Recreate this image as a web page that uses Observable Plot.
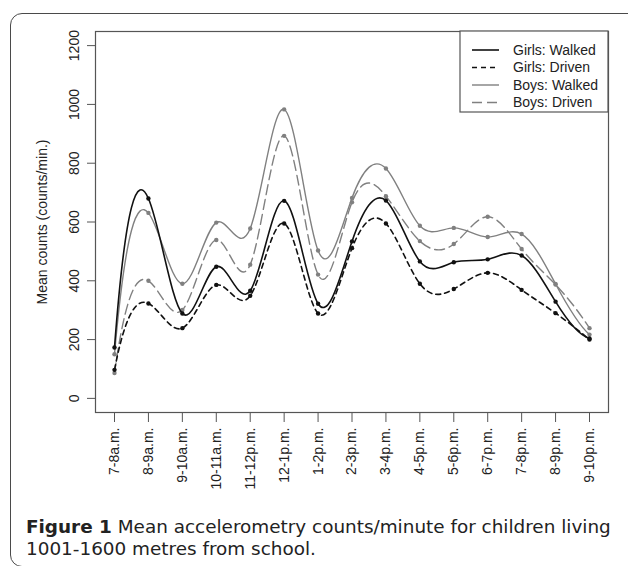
<!DOCTYPE html>
<html>
<head>
<meta charset="utf-8">
<script src="https://cdn.jsdelivr.net/npm/d3@7"></script>
<script src="https://cdn.jsdelivr.net/npm/@observablehq/plot@0.6"></script>
<style>
  html, body { margin: 0; padding: 0; background: #fff; }
  body { width: 628px; height: 566px; position: relative; overflow: hidden; }
  #frame { position: absolute; left: 10px; top: 13px; width: 640px; height: 554px; box-sizing: border-box;
           border: 1.5px solid #4a4a4a; border-radius: 12px; }
  #chart { position: absolute; left: 0; top: 0; }
  #legend { position: absolute; left: 0; top: 0; }
  #caption { position: absolute; left: 26px; top: 516px; width: 600px; font-family: "DejaVu Sans", sans-serif;
             font-size: 18.4px; line-height: 22px; color: #222; white-space: nowrap; }
  #caption b { font-weight: 700; }
</style>
</head>
<body>
<div id="frame"></div>
<div id="chart"></div>
<div id="legend"></div>
<div id="caption"><b>Figure 1</b> Mean accelerometry counts/minute for children living<br>1001-1600 metres from school.</div>
<script>
const hours = ["7-8a.m.","8-9a.m.","9-10a.m.","10-11a.m.","11-12p.m.","12-1p.m.","1-2p.m.","2-3p.m.","3-4p.m.","4-5p.m.","5-6p.m.","6-7p.m.","7-8p.m.","8-9p.m.","9-10p.m."];
const girlsWalked = [173, 680, 289, 448, 366, 672, 322, 534, 673, 466, 463, 473, 486, 329, 204];
const girlsDriven = [97, 323, 239, 386, 349, 595, 289, 511, 595, 390, 372, 427, 369, 290, 200];
const boysWalked  = [150, 631, 390, 598, 578, 983, 503, 682, 782, 587, 580, 549, 559, 389, 217];
const boysDriven  = [86, 400, 301, 539, 455, 893, 421, 667, 688, 535, 525, 618, 508, 387, 239];
const seriesNames = ["Girls: Walked", "Girls: Driven", "Boys: Walked", "Boys: Driven"];
const yTicks = [0, 200, 400, 600, 800, 1000, 1200];

// Cubic interpolating spline with FMM end conditions (as R's spline()), as a d3 curve factory
function curveFMM(context) {
  let xs, ys;
  return {
    areaStart() {}, areaEnd() {},
    lineStart() { xs = []; ys = []; },
    point(x, y) { xs.push(+x); ys.push(+y); },
    lineEnd() {
      const n = xs.length;
      if (!n) return;
      context.moveTo(xs[0], ys[0]);
      if (n < 3) { for (let i = 1; i < n; i++) context.lineTo(xs[i], ys[i]); return; }
      const x = xs, y = ys, nm1 = n - 1;
      const b = new Array(n).fill(0), c = new Array(n).fill(0), d = new Array(n).fill(0);
      d[0] = x[1] - x[0];
      c[1] = (y[1] - y[0]) / d[0];
      for (let i = 1; i < nm1; i++) {
        d[i] = x[i + 1] - x[i];
        b[i] = 2 * (d[i - 1] + d[i]);
        c[i + 1] = (y[i + 1] - y[i]) / d[i];
        c[i] = c[i + 1] - c[i];
      }
      b[0] = -d[0];
      b[nm1] = -d[n - 2];
      c[0] = c[nm1] = 0;
      if (n > 3) {
        c[0] = c[2] / (x[3] - x[1]) - c[1] / (x[2] - x[0]);
        c[nm1] = c[n - 2] / (x[nm1] - x[n - 3]) - c[n - 3] / (x[n - 2] - x[n - 4]);
        c[0] = c[0] * d[0] * d[0] / (x[3] - x[0]);
        c[nm1] = -c[nm1] * d[n - 2] * d[n - 2] / (x[nm1] - x[n - 4]);
      }
      for (let i = 1; i <= nm1; i++) {
        const t = d[i - 1] / b[i - 1];
        b[i] = b[i] - t * d[i - 1];
        c[i] = c[i] - t * c[i - 1];
      }
      c[nm1] = c[nm1] / b[nm1];
      for (let i = n - 2; i >= 0; i--) c[i] = (c[i] - d[i] * c[i + 1]) / b[i];
      b[nm1] = (y[n - 1] - y[n - 2]) / d[n - 2] + d[n - 2] * (c[n - 2] + 2 * c[n - 1]);
      for (let i = 0; i < nm1; i++) {
        b[i] = (y[i + 1] - y[i]) / d[i] - d[i] * (c[i + 1] + 2 * c[i]);
        d[i] = (c[i + 1] - c[i]) / d[i];
        c[i] = 3 * c[i];
      }
      c[nm1] = 3 * c[nm1];
      d[nm1] = d[n - 2];
      for (let i = 0; i < nm1; i++) {
        const h = x[i + 1] - x[i];
        const s0 = b[i];
        const s1 = b[i] + 2 * c[i] * h + 3 * d[i] * h * h;
        context.bezierCurveTo(x[i] + h / 3, y[i] + s0 * h / 3, x[i + 1] - h / 3, y[i + 1] - s1 * h / 3, x[i + 1], y[i + 1]);
      }
    }
  };
}

const styles = [
  {stroke: "#111", dash: null, width: 1.6},
  {stroke: "#111", dash: "5,4", width: 1.6},
  {stroke: "#808080", dash: null, width: 1.4},
  {stroke: "#808080", dash: "10,5", width: 1.4}
];
const valuesList = [girlsWalked, girlsDriven, boysWalked, boysDriven];
const data = valuesList.map((vals, k) => vals.map((v, i) => ({series: seriesNames[k], i, v})));

const H = 505;
const marks = [];
[3, 2, 1, 0].forEach(k => {
  marks.push(Plot.line(data[k], {x: "i", y: "v", curve: curveFMM, stroke: styles[k].stroke,
    strokeWidth: styles[k].width, strokeDasharray: styles[k].dash}));
  marks.push(Plot.dot(data[k], {x: "i", y: "v", r: 2.2, fill: styles[k].stroke, stroke: "none"}));
});

const chart = Plot.plot({
  width: 628, height: H,
  marginLeft: 95, marginRight: 20, marginTop: 31, marginBottom: H - 412,
  style: {fontFamily: "'Liberation Sans', Arial, sans-serif", fontSize: "14px", color: "#222", background: "transparent"},
  x: {domain: [-0.56, 14.56]},
  y: {domain: [-48, 1248]},
  marks: [
    Plot.axisX({ticks: d3.range(hours.length), tickFormat: i => hours[i], tickRotate: -90, tickSize: 10,
      tickPadding: 5, label: null, stroke: "#555", fontSize: 14}),
    Plot.axisY({ticks: yTicks, tickFormat: d => String(d), tickRotate: -90, tickSize: 8, tickPadding: 9,
      stroke: "#555", fontSize: 14,
      label: "Mean counts (counts/min.)", labelAnchor: "center", labelArrow: "none", labelOffset: 58}),
    ...marks,
    Plot.frame({stroke: "#555", strokeWidth: 1.2})
  ]
});
document.getElementById("chart").appendChild(chart);

// legend
const lg = d3.select("#legend").append("svg").attr("width", 628).attr("height", 130)
  .style("font-family", "'Liberation Sans', Arial, sans-serif").style("font-size", "14px");
lg.append("rect").attr("x", 460).attr("y", 31).attr("width", 148).attr("height", 81)
  .attr("fill", "#fff").attr("stroke", "#555").attr("stroke-width", 1.2);
seriesNames.forEach((name, k) => {
  const y = 50 + k * 17.5;
  lg.append("line").attr("x1", 472).attr("x2", 499).attr("y1", y).attr("y2", y)
    .attr("stroke", styles[k].stroke).attr("stroke-width", styles[k].width)
    .attr("stroke-dasharray", styles[k].dash);
  lg.append("text").attr("x", 513).attr("y", y).attr("dy", "0.35em").attr("fill", "#222").text(name);
});
</script>
</body>
</html>
